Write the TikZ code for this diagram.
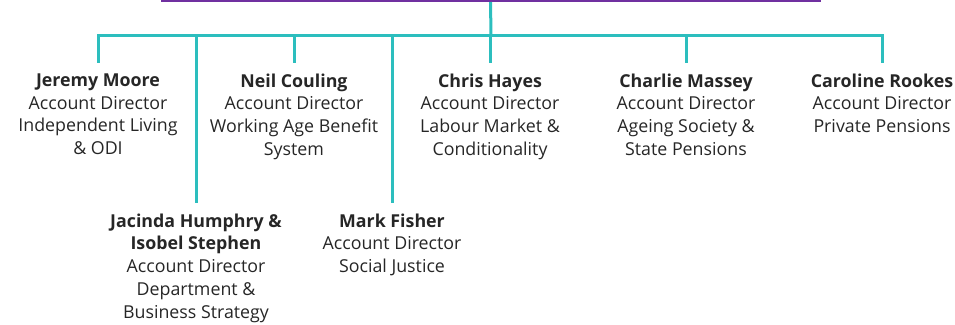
\documentclass[tikz,border=0pt]{standalone}
\usepackage{fontspec}
\setmainfont{Open Sans}
\usepackage{xcolor}
\definecolor{linkteal}{RGB}{44,190,190}
\definecolor{dgpurple}{RGB}{112,48,160}

\begin{document}
\begin{tikzpicture}[x=1pt,y=-1pt,
  person/.style={anchor=north,inner sep=0pt,align=center,
    font=\fontsize{17.8}{22.7}\selectfont,text=black!85,
    execute at begin node=\rule{0pt}{14pt}},
  link/.style={draw=linkteal,line width=3pt,shorten >=10.5pt},
  head/.style={draw=dgpurple,line width=3pt,anchor=south,
    minimum width=657pt,minimum height=60pt}]
\useasboundingbox (0,0) rectangle (955,324);
\node [head] (dg) at (490.5,2) {};
\coordinate (bar) at (491,35);
\node [person] (jm) at (98,73.5) {\textbf{Jeremy Moore}\\Account Director\\Independent Living\\\& ODI};
\node [person] (nc) at (294,73.5) {\textbf{Neil Couling}\\Account Director\\Working Age Benefit\\System};
\node [person] (ch) at (490,73.5) {\textbf{Chris Hayes}\\Account Director\\Labour Market \&\\Conditionality};
\node [person] (cm) at (686,73.5) {\textbf{Charlie Massey}\\Account Director\\Ageing Society \&\\State Pensions};
\node [person] (cr) at (882,73.5) {\textbf{Caroline Rookes}\\Account Director\\Private Pensions};
\node [person] (jh) at (196,213.5) {\textbf{Jacinda Humphry \&}\\\textbf{Isobel Stephen}\\Account Director\\Department \&\\Business Strategy};
\node [person] (mf) at (392,213.5) {\textbf{Mark Fisher}\\Account Director\\Social Justice};
\draw [link,shorten >=0pt] (dg.south) -- (bar);
\foreach \who in {jm,jh,nc,mf,ch,cm,cr}
  \draw [link] (bar) -| (\who.north);
\end{tikzpicture}
\end{document}
